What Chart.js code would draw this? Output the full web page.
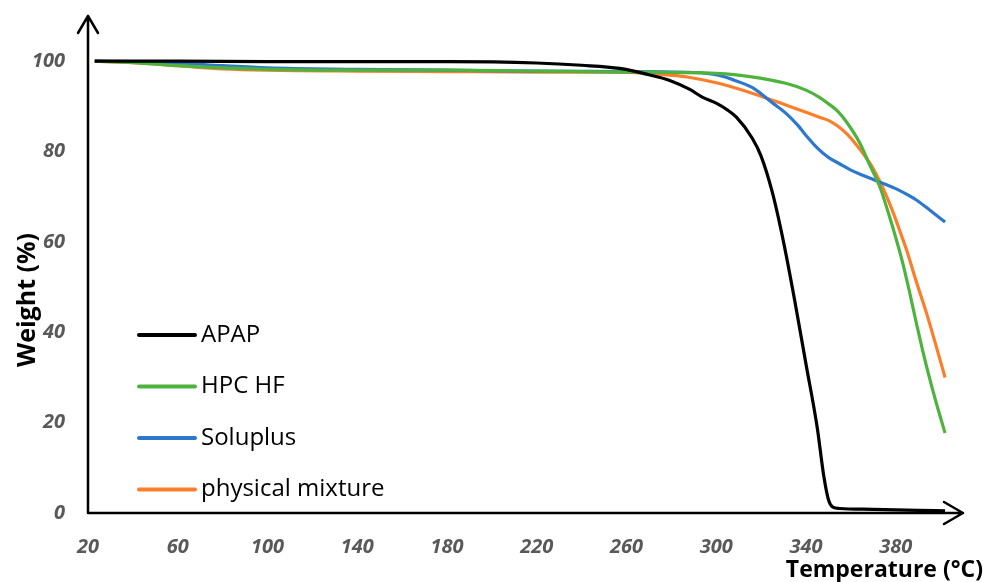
<!DOCTYPE html>
<html lang="en">
<head>
  <meta charset="UTF-8">
  <title>TGA curves</title>
  <script src="https://cdn.jsdelivr.net/npm/chart.js"></script>
  <style>
    body { margin: 0; background: #fff; }
    #tga { display: block; }
  </style>
</head>
<body>
  <canvas id="tga" width="984" height="582"></canvas>

  <script>
    // temperature (°C) / weight (%), one pair of arrays per curve
    const apapT = [23, 60, 100, 140, 180, 220, 240, 257, 270, 279, 288, 294, 300, 305, 309, 316, 320, 325, 330, 335, 340, 345, 348, 350, 352, 355, 370, 390, 402];
    const apapW = [100, 100, 99.9, 99.9, 99.9, 99.6, 99.1, 98.4, 97, 95.8, 93.8, 92, 90.7, 89.2, 87.6, 83, 79, 71, 60, 47, 33, 19, 8, 3, 1.3, 1, 0.8, 0.6, 0.5];

    const hpcT = [23, 40, 60, 80, 100, 140, 180, 220, 260, 280, 300, 315, 331, 340, 346, 350, 354, 358, 364, 368, 373, 377, 380, 383, 386, 389, 392, 395, 398, 402];
    const hpcW = [100, 99.7, 99, 98.5, 98.2, 98, 98, 97.8, 97.6, 97.5, 97.3, 96.6, 95.1, 93.6, 92, 90.6, 89, 86.6, 81.9, 77.5, 72.1, 66, 61, 55.6, 49.3, 42.5, 36, 30, 24.5, 17.7];

    const soluT = [23, 40, 60, 80, 100, 140, 180, 220, 257, 290, 301, 308, 316, 320, 325, 331, 336, 341, 345, 350, 355, 360, 365, 370, 375, 380, 385, 390, 395, 402];
    const soluW = [100, 99.9, 99.6, 99, 98.5, 98.2, 98, 97.8, 97.7, 97.5, 96.9, 95.8, 94.2, 92.8, 90.8, 88.5, 86, 83, 80.8, 78.7, 77.3, 75.9, 74.8, 73.8, 72.8, 71.8, 70.5, 69, 67.1, 64.4];

    const mixT = [23, 40, 60, 80, 100, 140, 180, 220, 257, 275, 287, 301, 316, 331, 340, 346, 350, 354, 358, 362, 366, 370, 373, 376, 379, 382, 385, 389, 394, 398, 402];
    const mixW = [100, 99.7, 99, 98.3, 98, 97.8, 97.7, 97.6, 97.6, 97.1, 96.5, 95.1, 92.9, 90.3, 88.7, 87.6, 86.9, 85.7, 84, 81.8, 79.2, 76.2, 73.3, 70, 66.3, 62.2, 58, 51.5, 43.8, 37, 30];

    const seriesNames = ['APAP', 'HPC HF', 'Soluplus', 'physical mixture'];
    const seriesColors = ['#000000', '#4db33d', '#2d78cc', '#fb7e2b'];

    const xTicks = [20, 60, 100, 140, 180, 220, 260, 300, 340, 380];
    const yTicks = [0, 20, 40, 60, 80, 100];

    const toPoints = (t, w) => t.map((v, i) => ({ x: v, y: w[i] }));
    const curves = [toPoints(apapT, apapW), toPoints(hpcT, hpcW), toPoints(soluT, soluW), toPoints(mixT, mixW)];

    const tickFont = { family: "'Open Sans', 'Liberation Sans', sans-serif", size: 20, weight: 'bold', style: 'italic' };

    // axis lines with open arrow heads, axis titles and the in-plot legend
    const decorations = {
      id: 'decorations',
      beforeDatasetsDraw(chart) {
        const { ctx, chartArea: a } = chart;
        ctx.save();
        ctx.strokeStyle = '#000';
        ctx.lineWidth = 2.5;
        ctx.lineCap = 'round';
        ctx.lineJoin = 'round';
        ctx.beginPath();
        ctx.moveTo(a.left, a.bottom);
        ctx.lineTo(a.left, a.top);
        ctx.moveTo(a.left - 10, a.top + 17);
        ctx.lineTo(a.left, a.top);
        ctx.lineTo(a.left + 10, a.top + 17);
        ctx.moveTo(a.left, a.bottom);
        ctx.lineTo(a.right, a.bottom);
        ctx.moveTo(a.right - 19, a.bottom - 11);
        ctx.lineTo(a.right, a.bottom);
        ctx.lineTo(a.right - 19, a.bottom + 11);
        ctx.stroke();
        ctx.restore();
      },
      afterDraw(chart) {
        const { ctx } = chart;
        ctx.save();
        ctx.fillStyle = '#000';
        ctx.font = "bold 23px 'Open Sans', 'Liberation Sans', sans-serif";
        ctx.textAlign = 'right';
        ctx.textBaseline = 'alphabetic';
        ctx.fillText('Temperature (°C)', 983, 577);

        ctx.font = "bold 25px 'Open Sans', 'Liberation Sans', sans-serif";
        ctx.translate(35, 300);
        ctx.rotate(-Math.PI / 2);
        ctx.textAlign = 'center';
        ctx.fillText('Weight (%)', 0, 0);
        ctx.restore();

        ctx.save();
        ctx.font = "24px 'Open Sans', 'Liberation Sans', sans-serif";
        ctx.textBaseline = 'middle';
        ctx.textAlign = 'left';
        ctx.lineWidth = 4;
        ctx.lineCap = 'round';
        chart.data.datasets.forEach((ds, i) => {
          const y = 335 + i * 51.5;
          ctx.strokeStyle = ds.borderColor;
          ctx.beginPath();
          ctx.moveTo(139, y);
          ctx.lineTo(195, y);
          ctx.stroke();
          ctx.fillStyle = '#000';
          ctx.fillText(ds.label, 201, y);
        });
        ctx.restore();
      }
    };

    new Chart(document.getElementById('tga').getContext('2d'), {
      type: 'line',
      data: {
        datasets: curves.map((pts, i) => ({
          label: seriesNames[i],
          data: pts,
          borderColor: seriesColors[i],
          backgroundColor: seriesColors[i],
          borderWidth: 3.2,
          pointRadius: 0,
          cubicInterpolationMode: 'monotone',
          fill: false
        }))
      },
      options: {
        responsive: false,
        animation: false,
        layout: { padding: { left: 0, right: 21, top: 16, bottom: 0 } },
        plugins: {
          legend: { display: false },
          tooltip: { enabled: false }
        },
        scales: {
          x: {
            type: 'linear',
            min: 20,
            max: 410,
            afterBuildTicks: scale => { scale.ticks = xTicks.map(v => ({ value: v })); },
            afterFit: scale => { scale.height = 69; scale.paddingLeft = 0; scale.paddingRight = 0; },
            grid: { display: false, drawTicks: false },
            border: { display: false },
            ticks: { color: '#595959', font: tickFont, padding: 22, maxRotation: 0, autoSkip: false }
          },
          y: {
            min: 0,
            max: 110,
            afterBuildTicks: scale => { scale.ticks = yTicks.map(v => ({ value: v })); },
            afterFit: scale => { scale.width = 88; scale.paddingTop = 0; scale.paddingBottom = 0; },
            grid: { display: false, drawTicks: false },
            border: { display: false },
            ticks: { color: '#595959', font: tickFont, padding: 23 }
          }
        }
      },
      plugins: [decorations]
    });
  </script>
</body>
</html>
